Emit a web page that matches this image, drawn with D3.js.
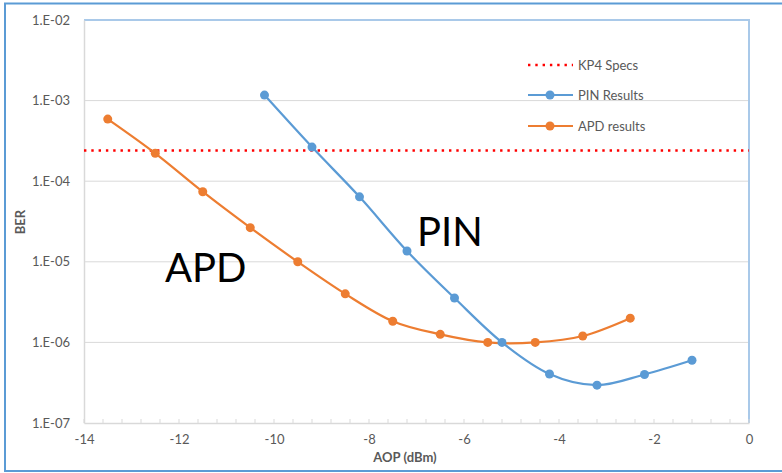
<!DOCTYPE html>
<html><head><meta charset="utf-8">
<script src="https://cdn.jsdelivr.net/npm/d3@7"></script>
<style>html,body{margin:0;padding:0;background:#fff;}svg{display:block;}</style>
</head><body><svg id="c" width="782" height="473"></svg>
<script>
const pinX = [-10.2, -9.2, -8.2, -7.2, -6.2, -5.2, -4.2, -3.2, -2.2, -1.2];
const pinBER = [1.17e-3, 2.65e-4, 6.4e-5, 1.36e-5, 3.55e-6, 1.0e-6, 4.05e-7, 2.95e-7, 4.0e-7, 6.0e-7];
const apdX = [-13.5, -12.5, -11.5, -10.5, -9.5, -8.5, -7.5, -6.5, -5.5, -4.5, -3.5, -2.5];
const apdBER = [5.9e-4, 2.22e-4, 7.4e-5, 2.65e-5, 1.0e-5, 4.0e-6, 1.83e-6, 1.26e-6, 1.0e-6, 1.0e-6, 1.2e-6, 2.0e-6];
const kp4 = 2.4e-4;
const xTicks = [-14, -12, -10, -8, -6, -4, -2, 0];
const yTicks = [1e-2, 1e-3, 1e-4, 1e-5, 1e-6, 1e-7];
const yTickLabels = ["1.E-02", "1.E-03", "1.E-04", "1.E-05", "1.E-06", "1.E-07"];
const legendNames = ["KP4 Specs", "PIN Results", "APD results"];

const svg = d3.select("#c");
const font = "Lato, 'Open Sans', sans-serif";
const L = 84, R = 749, T = 20, B = 423;
const x = d3.scaleLinear().domain([-14, 0]).range([L, R]);
const y = d3.scaleLog().domain([1e-7, 1e-2]).range([B, T]);

// outer border
svg.append("rect").attr("x", 5).attr("y", 3.5).attr("width", 790).attr("height", 467.5)
  .attr("fill", "none").attr("stroke", "#5b9bd5").attr("stroke-width", 2);

// gridlines
svg.append("g").selectAll("line").data(yTicks.slice(1, 5)).join("line")
  .attr("x1", L).attr("x2", R).attr("y1", d => y(d)).attr("y2", d => y(d))
  .attr("stroke", "#d9d9d9").attr("stroke-width", 1);

// plot area border top/right
svg.append("path").attr("d", `M${L},${T}H${R}V${B}`).attr("fill", "none")
  .attr("stroke", "#a9c9e9").attr("stroke-width", 2);

// y axis
const yAxis = d3.axisLeft(y).tickValues(yTicks).tickSize(0).tickPadding(14)
  .tickFormat((d, i) => yTickLabels[i]);
const gy = svg.append("g").attr("transform", `translate(${L},0)`).call(yAxis);
gy.select(".domain").attr("stroke", "#d9d9d9").attr("stroke-width", 1.5);
gy.selectAll("text").attr("font-family", font).attr("font-size", 13).attr("fill", "#595959");

// x axis with minor ticks
const minor = d3.range(0, 36).map(i => -14 + i * 0.4);
svg.append("g").selectAll("line").data(minor).join("line")
  .attr("x1", d => x(d)).attr("x2", d => x(d)).attr("y1", B).attr("y2", B - 4)
  .attr("stroke", "#d9d9d9").attr("stroke-width", 1);
const xAxis = d3.axisBottom(x).tickValues(xTicks).tickSize(0).tickPadding(12)
  .tickFormat(d => d === 0 ? "0" : "-" + Math.abs(d));
const gx = svg.append("g").attr("transform", `translate(0,${B})`).call(xAxis);
gx.select(".domain").attr("stroke", "#d9d9d9").attr("stroke-width", 1.5);
gx.selectAll("text").attr("font-family", font).attr("font-size", 13).attr("fill", "#595959");

// axis titles
svg.append("text").attr("x", 405).attr("y", 462).attr("text-anchor", "middle")
  .attr("font-family", font).attr("font-size", 13).attr("font-weight", "bold").attr("fill", "#595959")
  .text("AOP (dBm)");
svg.append("text").attr("transform", "translate(25,222) rotate(-90)").attr("text-anchor", "middle")
  .attr("font-family", font).attr("font-size", 13).attr("font-weight", "bold").attr("fill", "#595959")
  .text("BER");

// KP4 line
const dotted = "2.4,4.9";
svg.append("line").attr("x1", L).attr("x2", R).attr("y1", y(kp4)).attr("y2", y(kp4))
  .attr("stroke", "#ff0000").attr("stroke-width", 2.4).attr("stroke-dasharray", dotted);

// series
const line = d3.line().x(d => x(d[0])).y(d => y(d[1])).curve(d3.curveCardinal.tension(0));
function series(xs, ys, color) {
  const pts = xs.map((v, i) => [v, ys[i]]);
  svg.append("path").datum(pts).attr("d", line).attr("fill", "none")
    .attr("stroke", color).attr("stroke-width", 2.2);
  svg.append("g").selectAll("circle").data(pts).join("circle")
    .attr("cx", d => x(d[0])).attr("cy", d => y(d[1])).attr("r", 4.5).attr("fill", color);
}
series(apdX, apdBER, "#ed7d31");
series(pinX, pinBER, "#5b9bd5");

// annotations
svg.append("text").attr("x", 165).attr("y", 282).attr("font-family", font).attr("font-size", 40)
  .attr("fill", "#000").text("APD");
svg.append("text").attr("x", 417).attr("y", 246).attr("font-family", font).attr("font-size", 40)
  .attr("fill", "#000").text("PIN");

// legend
const legY = [65, 95, 126];
const legColors = ["#ff0000", "#5b9bd5", "#ed7d31"];
legendNames.forEach((n, i) => {
  const g = svg.append("g");
  const ln = g.append("line").attr("x1", 528).attr("x2", 573).attr("y1", legY[i]).attr("y2", legY[i])
    .attr("stroke", legColors[i]).attr("stroke-width", i === 0 ? 2.4 : 2.2);
  if (i === 0) ln.attr("stroke-dasharray", dotted);
  else g.append("circle").attr("cx", 550).attr("cy", legY[i]).attr("r", 4.5).attr("fill", legColors[i]);
  g.append("text").attr("x", 578).attr("y", legY[i]).attr("dy", "0.35em")
    .attr("font-family", font).attr("font-size", 13).attr("fill", "#595959").text(n);
});
</script></body></html>
